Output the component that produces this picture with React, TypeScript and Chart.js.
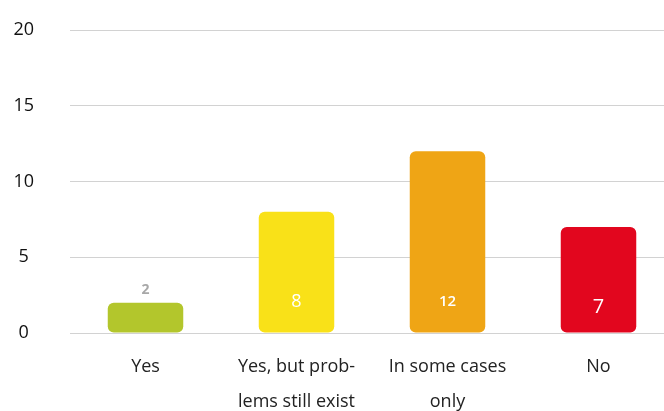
import React, { useEffect, useRef } from "react";
import { Chart, registerables } from "chart.js";

Chart.register(...registerables);

const categories: string[][] = [["Yes"], ["Yes, but prob-", "lems still exist"], ["In some cases", "only"], ["No"]];
const values: number[] = [2, 8, 12, 7];
const barColors: string[] = ["#b3c62c", "#f9e118", "#efa515", "#e2061e"];
const yTicks: number[] = [0, 5, 10, 15, 20];

const FONT = "'Open Sans', 'Noto Sans', sans-serif";

const valueLabelPlugin = {
  id: "valueLabels",
  afterDatasetsDraw(chart: any) {
    const ctx = chart.ctx;
    const meta = chart.getDatasetMeta(0);
    const yScale = chart.scales.y;
    ctx.save();
    ctx.textAlign = "center";
    ctx.textBaseline = "middle";
    meta.data.forEach((bar: any, i: number) => {
      const v = values[i];
      if (v <= 3) {
        ctx.fillStyle = "#a8a8a8";
        ctx.font = `bold 14px ${FONT}`;
        ctx.fillText(String(v), bar.x, bar.y - 13);
      } else {
        ctx.fillStyle = "#ffffff";
        const size = v >= 10 ? 15 : v === 7 ? 20 : 18;
        const off = v === 7 ? 26 : 31;
        ctx.font = `${v >= 10 ? "600" : "normal"} ${size}px ${FONT}`;
        ctx.fillText(String(v), bar.x, yScale.getPixelForValue(0) - off);
      }
    });
    ctx.restore();
  },
};

export default function App() {
  const ref = useRef<HTMLCanvasElement | null>(null);
  useEffect(() => {
    if (!ref.current) return;
    const chart = new Chart(ref.current, {
      type: "bar",
      data: {
        labels: categories,
        datasets: [
          {
            data: values,
            backgroundColor: barColors,
            borderRadius: 6,
            borderSkipped: false,
            categoryPercentage: 1,
            barPercentage: 0.5,
          },
        ],
      },
      options: {
        animation: false,
        responsive: false,
        maintainAspectRatio: false,
        layout: { padding: { top: 30, left: 0, right: 0, bottom: 0 } },
        plugins: { legend: { display: false }, tooltip: { enabled: false } },
        scales: {
          x: {
            grid: { display: false, drawTicks: false },
            border: { display: false },
            ticks: {
              color: "#222222",
              font: { family: FONT, size: 18, lineHeight: 1.95 },
              padding: 16,
              maxRotation: 0,
              autoSkip: false,
            },
            afterFit(scale: any) {
              scale.height = 78;
              scale.paddingLeft = 0;
              scale.paddingRight = 0;
            },
          },
          y: {
            min: 0,
            max: 20,
            afterBuildTicks(scale: any) {
              scale.ticks = yTicks.map((v) => ({ value: v }));
            },
            grid: { color: "#d2d2d2", drawTicks: false, lineWidth: 1 },
            border: { display: false },
            ticks: {
              color: "#111111",
              font: { family: FONT, size: 18 },
              crossAlign: "center",
              padding: 36,
            },
            afterFit(scale: any) {
              scale.width = 70;
              scale.paddingTop = 0;
              scale.paddingBottom = 0;
            },
          },
        },
      },
      plugins: [valueLabelPlugin],
    });
    return () => chart.destroy();
  }, []);
  return (
    <div style={{ position: "fixed", left: 0, top: 0, width: 674, height: 411, background: "#fff" }}>
      <canvas ref={ref} width={674} height={411} style={{ width: 674, height: 411, display: "block" }} />
    </div>
  );
}
